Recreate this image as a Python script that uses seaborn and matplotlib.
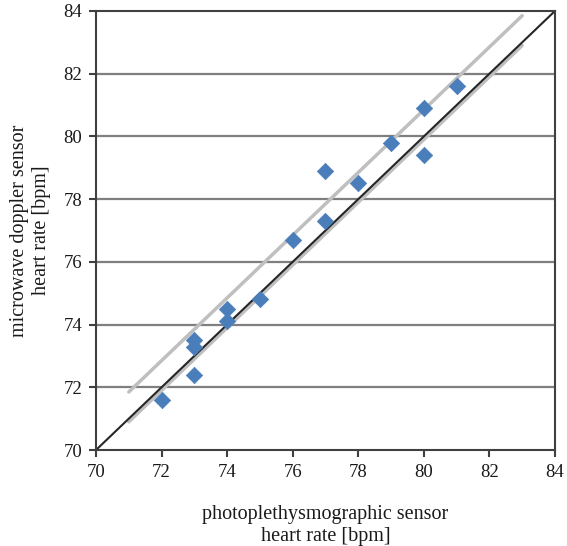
import matplotlib
matplotlib.use("Agg")
import matplotlib.pyplot as plt
import seaborn as sns
import pandas as pd

ppg_hr = [72, 73, 73, 73, 74, 74, 75, 76, 77, 77, 78, 79, 80, 80, 81]
doppler_hr = [71.6, 72.4, 73.3, 73.5, 74.1, 74.5, 74.8, 76.7, 77.3, 78.9, 78.5, 79.8, 79.4, 80.9, 81.6]

identity_x = [70, 84]
identity_y = [70, 84]
upper_x = [71, 83]
upper_y = [71.85, 83.85]
lower_x = [71, 83]
lower_y = [70.9, 82.9]

ticks = [70, 72, 74, 76, 78, 80, 82, 84]

sns.set_theme(style="white")
plt.rcParams['font.family'] = ['Liberation Serif', 'DejaVu Serif']

fig = plt.figure(figsize=(5.67, 5.46), dpi=100)
ax = fig.add_axes([0.1693, 0.1758, 0.8095, 0.8041])

for t in ticks[1:-1]:
    ax.axhline(t, color="#7f7f7f", lw=1.6, zorder=0)

sns.lineplot(x=upper_x, y=upper_y, ax=ax, color="#bfbfbf", lw=2.5, zorder=1)
sns.lineplot(x=lower_x, y=lower_y, ax=ax, color="#bfbfbf", lw=2.5, zorder=1)
sns.lineplot(x=identity_x, y=identity_y, ax=ax, color="#262626", lw=1.5, zorder=2)

df = pd.DataFrame({"x": ppg_hr, "y": doppler_hr})
sns.scatterplot(data=df, x="x", y="y", ax=ax, marker="D", s=70, color="#4a7ebb",
                edgecolor="#4a7ebb", linewidth=0.5, zorder=3)

ax.set_xlim(70, 84)
ax.set_ylim(70, 84)
ax.set_xticks(ticks)
ax.set_yticks(ticks)
ax.set_xticklabels([str(t) for t in ticks], fontsize=13.5)
ax.set_yticklabels([str(t) for t in ticks], fontsize=13.5)
ax.tick_params(axis="both", direction="out", length=5, width=1.5, color="#404040", pad=5,
               labelcolor="#1a1a1a")
ax.tick_params(axis="x", bottom=True)
ax.tick_params(axis="y", left=True)

for s in ax.spines.values():
    s.set_visible(True)
    s.set_color("#404040")
    s.set_linewidth(1.5)

ax.set_xlabel("photoplethysmographic sensor\nheart rate [bpm]", fontsize=14.5, labelpad=17,
              linespacing=1.25, color="#1a1a1a")
ax.set_ylabel("microwave doppler sensor\nheart rate [bpm]", fontsize=14.5, labelpad=9,
              linespacing=1.2, color="#1a1a1a")

fig.savefig("out.png", dpi=100)
